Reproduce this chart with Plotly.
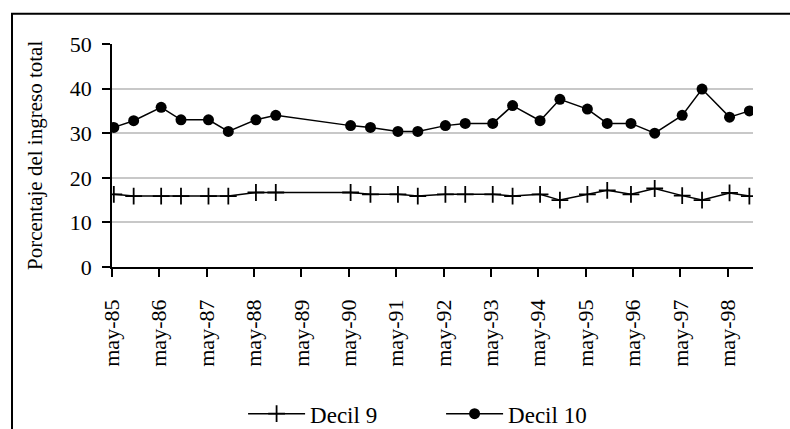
import plotly.graph_objects as go

# Survey dates (two rounds per year) and income shares of the top deciles
fechas = [
    "1985-05-15", "1985-10-15", "1986-05-15", "1986-10-15", "1987-05-15", "1987-10-15",
    "1988-05-15", "1988-10-15", "1990-05-15", "1990-10-15", "1991-05-15", "1991-10-15",
    "1992-05-15", "1992-10-15", "1993-05-15", "1993-10-15", "1994-05-15", "1994-10-15",
    "1995-05-15", "1995-10-15", "1996-04-15", "1996-10-15", "1997-05-15", "1997-10-15",
    "1998-05-15", "1998-10-15",
]
decil_9 = [
    16.3, 15.9, 15.9, 15.9, 15.9, 15.9, 16.7, 16.7, 16.7, 16.3, 16.3, 15.9, 16.3,
    16.3, 16.3, 15.9, 16.3, 15.0, 16.3, 17.2, 16.3, 17.6, 16.0, 15.0, 16.6, 15.9,
]
decil_10 = [
    31.3, 32.8, 35.8, 33.0, 33.0, 30.4, 33.0, 34.0, 31.7, 31.3, 30.4, 30.4, 31.7,
    32.2, 32.2, 36.2, 32.8, 37.6, 35.4, 32.2, 32.2, 30.0, 34.0, 39.9, 33.6, 35.0,
]

tick_fechas = [f"{y}-05-01" for y in range(1985, 1999)]
tick_textos = [f"may-{str(y)[2:]}" for y in range(1985, 1999)]

FUENTE = "Liberation Serif"

fig = go.Figure()
fig.add_trace(go.Scatter(
    x=fechas, y=decil_9, name="Decil 9", mode="lines+markers",
    line=dict(color="black", width=1.5),
    marker=dict(symbol="cross-thin", size=12, line=dict(color="black", width=1.8)),
))
fig.add_trace(go.Scatter(
    x=fechas, y=decil_10, name="Decil 10", mode="lines+markers",
    line=dict(color="black", width=1.5),
    marker=dict(symbol="circle", size=11, color="black"),
))

fig.update_layout(
    width=790, height=429,
    margin=dict(l=112, r=37, t=44, b=162, autoexpand=False),
    paper_bgcolor="white", plot_bgcolor="white",
    font=dict(family=FUENTE, size=22, color="black"),
    showlegend=True,
    legend=dict(orientation="h", x=0.2045, xanchor="left", y=-0.658, yanchor="middle",
                font=dict(family=FUENTE, size=23), itemwidth=57,
                entrywidth=126, entrywidthmode="pixels",
                bgcolor="rgba(0,0,0,0)"),
    xaxis=dict(
        type="date", range=["1985-05-01", "1998-11-12"],
        tickmode="array", tickvals=tick_fechas, ticktext=tick_textos, tickangle=-90,
        showgrid=False, showline=True, linecolor="black", linewidth=1.5,
        ticks="outside", ticklen=8, tickwidth=1.5, tickcolor="black",
        tickfont=dict(family=FUENTE, size=22), ticklabelstandoff=14,
        automargin=False,
    ),
    yaxis=dict(
        range=[0, 50], tickvals=[0, 10, 20, 30, 40, 50],
        showgrid=True, gridcolor="#c8c8c8", gridwidth=1.5, zeroline=False,
        showline=True, linecolor="black", linewidth=1.5,
        ticks="outside", ticklen=8, tickwidth=1.5, tickcolor="black",
        tickfont=dict(family=FUENTE, size=22), ticklabelstandoff=6,
        automargin=False,
    ),
    shapes=[dict(type="rect", xref="paper", yref="paper",
                 x0=-0.156, x1=1.3, y0=-1.2, y1=1.136,
                 line=dict(color="black", width=2), layer="above")],
    annotations=[
        dict(text="Porcentaje del ingreso total", textangle=-90, showarrow=False,
             xref="paper", yref="paper", x=-0.121, y=0.5, xanchor="center", yanchor="middle",
             font=dict(family=FUENTE, size=21)),
        dict(text="(Total Nacional Urbano y Rural)", showarrow=False,
             xref="paper", yref="paper", x=0.467, y=1.196, xanchor="center", yanchor="bottom",
             font=dict(family=FUENTE, size=20)),
    ],
)

fig.write_html("out.html")
